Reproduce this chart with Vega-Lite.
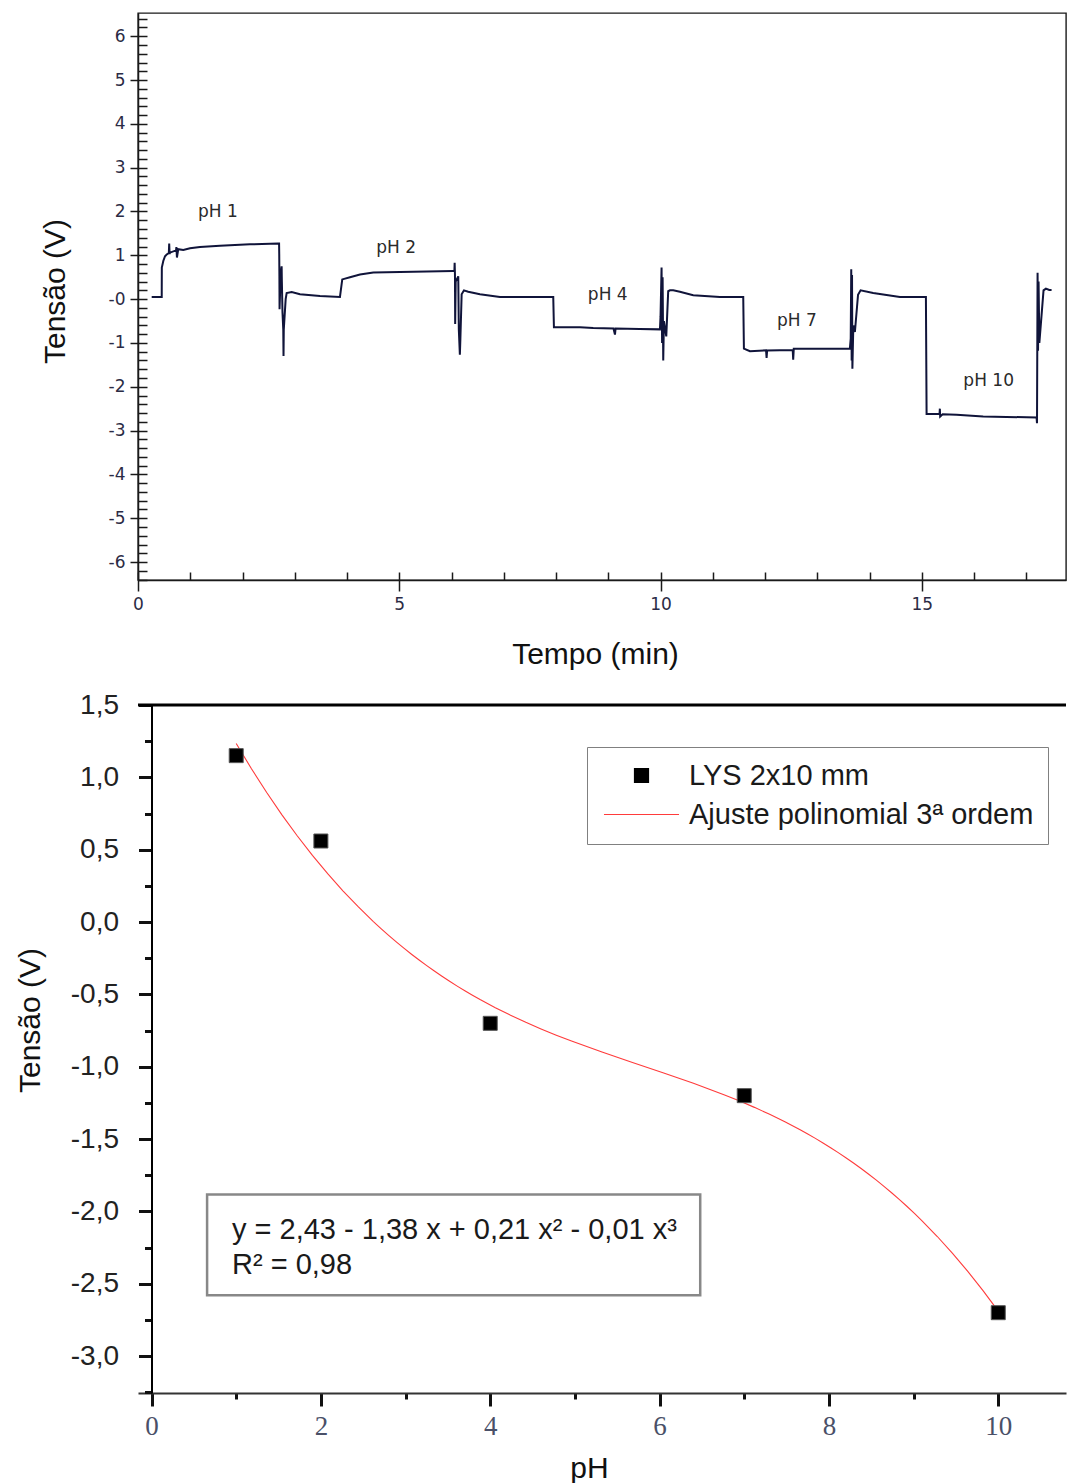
{
  "$schema": "https://vega.github.io/schema/vega-lite/v6.json",
  "background": "white",
  "padding": {"left": 15, "top": 12, "right": 0, "bottom": 0},
  "spacing": 21,
  "config": {
    "view": {"stroke": null},
    "axis": {"labelFlush": false, "grid": false, "labelOverlap": false}
  },
  "vconcat": [
    {
      "width": 928,
      "height": 567,
      "view": {"stroke": "#1a1a1a", "strokeWidth": 1.4},
      "resolve": {"axis": {"x": "independent", "y": "independent"}},
      "layer": [
        {
          "data": {
            "values": [
              {"t": 0.262, "v": 0.05}, {"t": 0.454, "v": 0.05}, {"t": 0.456, "v": 0.72}, {"t": 0.484, "v": 0.87},
              {"t": 0.517, "v": 0.98}, {"t": 0.549, "v": 1.02}, {"t": 0.590, "v": 1.05}, {"t": 0.597, "v": 1.27},
              {"t": 0.605, "v": 1.03}, {"t": 0.612, "v": 1.06}, {"t": 0.700, "v": 1.10}, {"t": 0.727, "v": 1.10},
              {"t": 0.735, "v": 1.19}, {"t": 0.745, "v": 0.95}, {"t": 0.771, "v": 1.14}, {"t": 0.867, "v": 1.12},
              {"t": 0.995, "v": 1.16}, {"t": 1.186, "v": 1.19}, {"t": 1.569, "v": 1.22}, {"t": 2.143, "v": 1.25},
              {"t": 2.685, "v": 1.27}, {"t": 2.700, "v": 1.27}, {"t": 2.703, "v": 1.02}, {"t": 2.706, "v": 0.53},
              {"t": 2.709, "v": -0.23}, {"t": 2.730, "v": 0.55}, {"t": 2.749, "v": 0.75}, {"t": 2.752, "v": 0.48},
              {"t": 2.765, "v": -0.30}, {"t": 2.780, "v": -0.69}, {"t": 2.785, "v": -1.30}, {"t": 2.790, "v": -0.69},
              {"t": 2.826, "v": 0.00}, {"t": 2.845, "v": 0.14}, {"t": 2.941, "v": 0.16}, {"t": 3.100, "v": 0.11},
              {"t": 3.483, "v": 0.07}, {"t": 3.865, "v": 0.05}, {"t": 3.884, "v": 0.22}, {"t": 3.909, "v": 0.45},
              {"t": 4.057, "v": 0.50}, {"t": 4.248, "v": 0.56}, {"t": 4.503, "v": 0.61}, {"t": 6.033, "v": 0.64},
              {"t": 6.055, "v": 0.64}, {"t": 6.060, "v": 0.83}, {"t": 6.066, "v": 0.55}, {"t": 6.070, "v": -0.57},
              {"t": 6.080, "v": 0.40}, {"t": 6.129, "v": 0.52}, {"t": 6.140, "v": -0.70}, {"t": 6.160, "v": -1.27},
              {"t": 6.170, "v": -0.90}, {"t": 6.194, "v": 0.11}, {"t": 6.238, "v": 0.20}, {"t": 6.320, "v": 0.17},
              {"t": 6.544, "v": 0.11}, {"t": 6.927, "v": 0.05}, {"t": 7.947, "v": 0.05}, {"t": 7.960, "v": -0.64},
              {"t": 8.458, "v": -0.64}, {"t": 8.712, "v": -0.66}, {"t": 9.100, "v": -0.67}, {"t": 9.128, "v": -0.81},
              {"t": 9.140, "v": -0.67}, {"t": 9.600, "v": -0.68}, {"t": 9.989, "v": -0.69}, {"t": 10.000, "v": -0.40},
              {"t": 10.020, "v": 0.72}, {"t": 10.030, "v": -1.00}, {"t": 10.040, "v": 0.50}, {"t": 10.052, "v": -1.40},
              {"t": 10.065, "v": -0.50}, {"t": 10.110, "v": -0.85}, {"t": 10.147, "v": 0.18}, {"t": 10.180, "v": 0.20},
              {"t": 10.243, "v": 0.20}, {"t": 10.371, "v": 0.17}, {"t": 10.626, "v": 0.09}, {"t": 11.137, "v": 0.05},
              {"t": 11.583, "v": 0.05}, {"t": 11.596, "v": -1.13}, {"t": 11.711, "v": -1.19}, {"t": 12.020, "v": -1.17},
              {"t": 12.030, "v": -1.34}, {"t": 12.040, "v": -1.17}, {"t": 12.530, "v": -1.16}, {"t": 12.539, "v": -1.38},
              {"t": 12.550, "v": -1.13}, {"t": 13.624, "v": -1.13}, {"t": 13.640, "v": -0.90}, {"t": 13.650, "v": 0.68},
              {"t": 13.658, "v": -1.40}, {"t": 13.665, "v": 0.55}, {"t": 13.672, "v": -1.59}, {"t": 13.690, "v": -0.60},
              {"t": 13.720, "v": -0.75}, {"t": 13.780, "v": 0.10}, {"t": 13.829, "v": 0.20}, {"t": 14.070, "v": 0.14},
              {"t": 14.581, "v": 0.05}, {"t": 15.079, "v": 0.05}, {"t": 15.092, "v": -2.62}, {"t": 15.340, "v": -2.62},
              {"t": 15.346, "v": -2.50}, {"t": 15.352, "v": -2.68}, {"t": 15.400, "v": -2.63}, {"t": 15.666, "v": -2.64},
              {"t": 16.175, "v": -2.68}, {"t": 17.197, "v": -2.70}, {"t": 17.205, "v": -2.83}, {"t": 17.216, "v": 0.60},
              {"t": 17.225, "v": -1.18}, {"t": 17.235, "v": 0.40}, {"t": 17.250, "v": -1.00}, {"t": 17.300, "v": -0.25},
              {"t": 17.330, "v": 0.20}, {"t": 17.375, "v": 0.24}, {"t": 17.440, "v": 0.21}, {"t": 17.484, "v": 0.21}
            ]
          },
          "mark": {"type": "line", "color": "#10143a", "strokeWidth": 2},
          "encoding": {
            "x": {
              "field": "t", "type": "quantitative",
              "scale": {"domain": [0, 17.76], "nice": false, "zero": false},
              "axis": {
                "orient": "bottom", "values": [0, 5, 10, 15],
                "tickSize": 11, "tickWidth": 1.5, "tickColor": "#1a1a1a",
                "domainColor": "#1a1a1a", "domainWidth": 1.5,
                "labelFont": "DejaVu Sans", "labelFontSize": 17, "labelColor": "#2b2b45", "labelPadding": 5,
                "title": "Tempo (min)", "titleFont": "Liberation Sans", "titleFontSize": 30,
                "titleFontWeight": "normal", "titleColor": "#111111", "titlePadding": 27, "titleX": 457
              }
            },
            "y": {
              "field": "v", "type": "quantitative",
              "scale": {"domain": [-6.41, 6.53], "nice": false, "zero": false},
              "axis": {
                "orient": "left", "values": [-6, -5, -4, -3, -2, -1, 0, 1, 2, 3, 4, 5, 6],
                "tickSize": 8, "tickWidth": 1.5, "tickColor": "#1a1a1a",
                "domainColor": "#1a1a1a", "domainWidth": 1.5,
                "labelExpr": "datum.value == 0 ? '-0' : (datum.value < 0 ? '-' + abs(datum.value) : '' + datum.value)",
                "labelFont": "DejaVu Sans", "labelFontSize": 17, "labelColor": "#2b2b45", "labelPadding": 5,
                "title": "Tensão (V)", "titleFont": "Liberation Sans", "titleFontSize": 30,
                "titleFontWeight": "normal", "titleColor": "#111111", "titlePadding": 38, "titleY": 278
              }
            }
          }
        },
        {
          "data": {
            "values": [
              {"t": 1.53, "v": 1.99, "rotulo": "pH 1"},
              {"t": 4.94, "v": 1.17, "rotulo": "pH 2"},
              {"t": 8.99, "v": 0.10, "rotulo": "pH 4"},
              {"t": 12.61, "v": -0.49, "rotulo": "pH 7"},
              {"t": 16.28, "v": -1.86, "rotulo": "pH 10"}
            ]
          },
          "mark": {"type": "text", "font": "DejaVu Sans", "fontSize": 17, "color": "#2a2a2a", "align": "center", "baseline": "middle"},
          "encoding": {
            "x": {
              "field": "t", "type": "quantitative",
              "scale": {"domain": [0, 17.76], "nice": false, "zero": false},
              "axis": {
                "orient": "bottom", "values": [0, 1, 2, 3, 4, 5, 6, 7, 8, 9, 10, 11, 12, 13, 14, 15, 16, 17],
                "tickSize": -8, "tickWidth": 1.5, "tickColor": "#1a1a1a",
                "labels": false, "domain": false, "title": null
              }
            },
            "y": {
              "field": "v", "type": "quantitative",
              "scale": {"domain": [-6.41, 6.53], "nice": false, "zero": false},
              "axis": {
                "orient": "left",
                "values": [-6.4, -6.2, -6, -5.8, -5.6, -5.4, -5.2, -5, -4.8, -4.6, -4.4, -4.2, -4, -3.8, -3.6, -3.4, -3.2, -3, -2.8, -2.6, -2.4, -2.2, -2, -1.8, -1.6, -1.4, -1.2, -1, -0.8, -0.6, -0.4, -0.2, 0, 0.2, 0.4, 0.6, 0.8, 1, 1.2, 1.4, 1.6, 1.8, 2, 2.2, 2.4, 2.6, 2.8, 3, 3.2, 3.4, 3.6, 3.8, 4, 4.2, 4.4, 4.6, 4.8, 5, 5.2, 5.4, 5.6, 5.8, 6, 6.2, 6.4],
                "tickSize": -9, "tickWidth": 1.5, "tickColor": "#1a1a1a",
                "labels": false, "domain": false, "title": null
              }
            },
            "text": {"field": "rotulo"}
          }
        }
      ]
    },
    {
      "width": 928,
      "height": 688,
      "resolve": {"axis": {"x": "independent", "y": "independent"}},
      "data": {
        "values": [
          {"ph": 1, "tensao": 1.15},
          {"ph": 2, "tensao": 0.56},
          {"ph": 4, "tensao": -0.70},
          {"ph": 7, "tensao": -1.20},
          {"ph": 10, "tensao": -2.70}
        ]
      },
      "layer": [
        {
          "data": {"values": [{}]},
          "mark": {"type": "rule", "color": "black", "strokeWidth": 3},
          "encoding": {
            "y": {"datum": 1.5, "type": "quantitative", "scale": {"domain": [-3.255, 1.5], "nice": false, "zero": false}, "axis": null}
          }
        },
        {
          "transform": [{"regression": "tensao", "on": "ph", "method": "poly", "order": 3, "extent": [1, 10]}],
          "mark": {"type": "line", "strokeWidth": 1.1},
          "encoding": {
            "x": {
              "field": "ph", "type": "quantitative",
              "scale": {"domain": [-0.16, 10.8], "nice": false, "zero": false},
              "axis": {
                "orient": "bottom", "values": [1, 3, 5, 7, 9],
                "tickSize": 6, "tickWidth": 3, "tickColor": "#111111",
                "labels": false, "domain": false, "title": null
              }
            },
            "y": {
              "field": "tensao", "type": "quantitative",
              "scale": {"domain": [-3.255, 1.5], "nice": false, "zero": false},
              "axis": {
                "orient": "left", "offset": -13.5,
                "values": [-3.25, -2.75, -2.25, -1.75, -1.25, -0.75, -0.25, 0.25, 0.75, 1.25],
                "tickSize": 7, "tickWidth": 3, "tickColor": "#111111",
                "labels": false, "domain": false, "title": null
              }
            },
            "color": {
              "datum": "Ajuste polinomial 3ª ordem",
              "scale": {"domain": ["LYS 2x10 mm", "Ajuste polinomial 3ª ordem"], "range": ["black", "#ff3b3b"]},
              "legend": {
                "title": null, "orient": "none", "legendX": 449, "legendY": 734, "direction": "vertical",
                "labelFont": "Liberation Sans", "labelFontSize": 29, "labelColor": "#1a1a1a", "labelLimit": 600,
                "symbolSize": 196, "symbolStrokeWidth": 1.2, "labelOffset": 59,
                "strokeColor": "#808080", "fillColor": "white", "padding": 14, "rowPadding": 9,
                "encode": {
                  "symbols": {
                    "update": {
                      "x": {"value": 40.5},
                      "shape": {"signal": "datum.value === 'LYS 2x10 mm' ? 'square' : 'M-5.36,0L5.36,0'"},
                      "size": {"value": 196},
                      "fill": {"signal": "datum.value === 'LYS 2x10 mm' ? 'black' : 'transparent'"},
                      "stroke": {"signal": "datum.value === 'LYS 2x10 mm' ? '#555555' : '#ff3b3b'"},
                      "strokeWidth": {"value": 1.2},
                      "opacity": {"value": 1}
                    }
                  }
                }
              }
            }
          }
        },
        {
          "mark": {"type": "square", "size": 196, "filled": true, "opacity": 1, "stroke": "#555555", "strokeWidth": 1},
          "encoding": {
            "x": {
              "field": "ph", "type": "quantitative",
              "scale": {"domain": [-0.16, 10.8], "nice": false, "zero": false},
              "axis": {
                "orient": "bottom", "values": [0, 2, 4, 6, 8, 10],
                "tickSize": 13, "tickWidth": 3, "tickColor": "#111111",
                "domainColor": "#333333", "domainWidth": 2,
                "labelFont": "Liberation Serif", "labelFontSize": 27, "labelColor": "#4a5068", "labelPadding": 7,
                "title": "pH", "titleFont": "Liberation Sans", "titleFontSize": 30,
                "titleFontWeight": "normal", "titleColor": "#111111", "titlePadding": 14, "titleX": 451
              }
            },
            "y": {
              "field": "tensao", "type": "quantitative",
              "scale": {"domain": [-3.255, 1.5], "nice": false, "zero": false},
              "axis": {
                "orient": "left", "offset": -13.5,
                "values": [-3, -2.5, -2, -1.5, -1, -0.5, 0, 0.5, 1, 1.5],
                "tickSize": 13, "tickWidth": 3, "tickColor": "#111111",
                "domainColor": "black", "domainWidth": 2,
                "labelExpr": "(datum.value < 0 ? '-' : '') + replace(format(abs(datum.value), '.1f'), '.', ',')",
                "labelFont": "Liberation Sans", "labelFontSize": 28, "labelColor": "#222222", "labelPadding": 20,
                "title": "Tensão (V)", "titleFont": "Liberation Sans", "titleFontSize": 30,
                "titleFontWeight": "normal", "titleColor": "#111111", "titlePadding": 25, "titleY": 315
              }
            },
            "color": {
              "datum": "LYS 2x10 mm",
              "scale": {"domain": ["LYS 2x10 mm", "Ajuste polinomial 3ª ordem"], "range": ["black", "#ff3b3b"]},
              "legend": {
                "title": null, "orient": "none", "legendX": 449, "legendY": 734, "direction": "vertical",
                "labelFont": "Liberation Sans", "labelFontSize": 29, "labelColor": "#1a1a1a", "labelLimit": 600,
                "symbolSize": 196, "symbolStrokeWidth": 1.2, "labelOffset": 59,
                "strokeColor": "#808080", "fillColor": "white", "padding": 14, "rowPadding": 9,
                "encode": {
                  "symbols": {
                    "update": {
                      "x": {"value": 40.5},
                      "shape": {"signal": "datum.value === 'LYS 2x10 mm' ? 'square' : 'M-5.36,0L5.36,0'"},
                      "size": {"value": 196},
                      "fill": {"signal": "datum.value === 'LYS 2x10 mm' ? 'black' : 'transparent'"},
                      "stroke": {"signal": "datum.value === 'LYS 2x10 mm' ? '#555555' : '#ff3b3b'"},
                      "strokeWidth": {"value": 1.2},
                      "opacity": {"value": 1}
                    }
                  }
                }
              }
            }
          }
        },
        {
          "data": {"values": [{}]},
          "mark": {"type": "rect", "fill": "white", "stroke": "#888888", "strokeWidth": 2.5},
          "encoding": {
            "x": {"datum": 0.656, "type": "quantitative", "scale": {"domain": [-0.16, 10.8], "nice": false, "zero": false}, "axis": null},
            "x2": {"datum": 6.48},
            "y": {"datum": -1.883, "type": "quantitative", "scale": {"domain": [-3.255, 1.5], "nice": false, "zero": false}, "axis": null},
            "y2": {"datum": -2.579}
          }
        },
        {
          "data": {"values": [{}]},
          "mark": {
            "type": "text", "font": "Liberation Sans", "fontSize": 29, "color": "#1a1a1a",
            "align": "left", "baseline": "middle", "lineHeight": 35,
            "text": ["y = 2,43 - 1,38 x + 0,21 x² - 0,01 x³", "R² = 0,98"]
          },
          "encoding": {
            "x": {"datum": 0.95, "type": "quantitative", "scale": {"domain": [-0.16, 10.8], "nice": false, "zero": false}, "axis": null},
            "y": {"datum": -2.127, "type": "quantitative", "scale": {"domain": [-3.255, 1.5], "nice": false, "zero": false}, "axis": null}
          }
        }
      ]
    }
  ]
}
